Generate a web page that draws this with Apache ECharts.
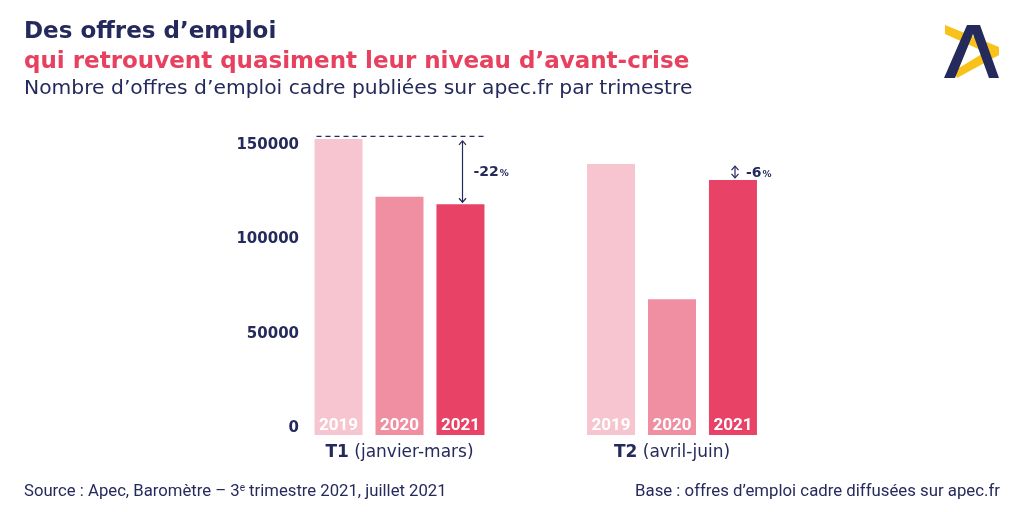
<!DOCTYPE html>
<html><head><meta charset="utf-8">
<script src="https://cdn.jsdelivr.net/npm/echarts@6/dist/echarts.min.js"></script>
<style>html,body{margin:0;padding:0;background:#fff}#c{width:1024px;height:512px}</style>
</head><body><div id="c"></div>
<script>
// ---- data ----
const quarters = ['T1', 'T2'];
const quarterNames = ['(janvier-mars)', '(avril-juin)'];
const years = ['2019', '2020', '2021'];
const offers2019 = [156900, 143600];
const offers2020 = [126300, 71900];
const offers2021 = [122300, 135200];
const changeLabels = ['-22', '-6'];
const showRefLine = [1, 0];
const yTickLabels = [0, 50000, 100000, 150000];

// ---- style ----
const NAVY = '#252a5c';
const PINK = '#e8415f';
const COLORS = ['#f7c5d0', '#f08fa2', '#e84266'];
const FONT = 'DejaVu Sans';

const chart = echarts.init(document.getElementById('c'), null, {renderer: 'canvas'});
const seriesData = [offers2019, offers2020, offers2021];

const barSeries = years.map((y, k) => ({
  type: 'bar',
  name: y,
  data: seriesData[k],
  barWidth: 48,
  barGap: '27%',
  itemStyle: {color: COLORS[k]},
  label: {
    show: true, position: 'insideBottom', distance: 1,
    formatter: () => y,
    color: '#fff', fontSize: 17, fontWeight: 'bold', fontFamily: 'Roboto'
  },
  emphasis: {disabled: true},
  silent: true
}));

const annData = quarters.map((q, i) => [i, offers2019[i], offers2021[i], showRefLine[i]]);

const annSeries = {
  type: 'custom',
  coordinateSystem: 'cartesian2d',
  data: annData,
  encode: {x: 0, y: 1},
  z: 10,
  silent: true,
  renderItem(params, api) {
    const i = api.value(0);
    const p19 = api.coord([i, api.value(1)]);
    const p21 = api.coord([i, api.value(2)]);
    const cx = p19[0];
    const ax = cx + 63;
    const y1 = p19[1] + 2, y2 = p21[1] - 2;
    const st = {stroke: NAVY, lineWidth: 1.2, fill: null};
    const children = [];
    if (api.value(3)) {
      children.push({type: 'line', shape: {x1: cx - 83, y1: p19[1] - 2.5, x2: cx + 84, y2: p19[1] - 2.5},
        style: {stroke: NAVY, lineWidth: 1.3, lineDash: [5, 4]}});
    }
    children.push({type: 'line', shape: {x1: ax, y1: y1, x2: ax, y2: y2}, style: st});
    children.push({type: 'polyline', shape: {points: [[ax - 3.5, y1 + 4], [ax, y1], [ax + 3.5, y1 + 4]]}, style: st});
    children.push({type: 'polyline', shape: {points: [[ax - 3.5, y2 - 4], [ax, y2], [ax + 3.5, y2 - 4]]}, style: st});
    children.push({type: 'text', x: ax + 11, y: (y1 + y2) / 2 + 1,
      style: {text: '{a|' + changeLabels[params.dataIndex] + '}{b|%}', align: 'left', verticalAlign: 'middle',
        rich: {a: {fontSize: 14, fontWeight: 'bold', fill: NAVY, fontFamily: FONT},
               b: {fontSize: 9, fontWeight: 'bold', fill: NAVY, fontFamily: FONT, padding: [3, 0, 0, 1]}}}});
    return {type: 'group', children};
  }
};

chart.setOption({
  animation: false,
  backgroundColor: '#fff',
  grid: {left: 263.25, right: 215.75, top: 133.1, bottom: 77},
  xAxis: {
    type: 'category', data: quarters,
    axisLine: {show: false}, axisTick: {show: false},
    axisLabel: {
      interval: 0, hideOverlap: false,
      margin: 9, color: NAVY, fontSize: 17, fontFamily: FONT,
      formatter: (v, i) => '{b|' + v + '} {n|' + quarterNames[i] + '}',
      rich: {b: {fontWeight: 'bold', fontSize: 17, color: NAVY, fontFamily: FONT},
             n: {fontSize: 17, color: NAVY, fontFamily: FONT}}
    }
  },
  yAxis: {
    type: 'value', min: 0, max: 160000, interval: 50000,
    axisLine: {show: false}, axisTick: {show: false}, splitLine: {show: false},
    axisLabel: {
      showMaxLabel: false, margin: -35.75, align: 'right', verticalAlign: 'bottom', lineHeight: 14,
      color: NAVY, fontSize: 15, fontWeight: 'bold', fontFamily: FONT,
      formatter: v => yTickLabels.includes(v) ? String(v) : ''
    }
  },
  series: [...barSeries, annSeries],
  graphic: [
    {type: 'text', left: 24, top: 21, style: {text: 'Des offres d’emploi', fill: NAVY, fontSize: 23, fontWeight: 'bold', fontFamily: FONT}},
    {type: 'text', left: 24, top: 51, style: {text: 'qui retrouvent quasiment leur niveau d’avant-crise', fill: PINK, fontSize: 23, fontWeight: 'bold', fontFamily: FONT}},
    {type: 'text', left: 24, top: 79, style: {text: 'Nombre d’offres d’emploi cadre publiées sur apec.fr par trimestre', fill: NAVY, fontSize: 20.3, fontFamily: FONT}},
    {type: 'text', left: 24, top: 483, style: {text: '{t|Source : Apec, Baromètre – 3}{s|e}{t| trimestre 2021, juillet 2021}',
      rich: {t: {fontSize: 16.7, fill: NAVY, fontFamily: 'Roboto'}, s: {fontSize: 10, fill: NAVY, fontFamily: 'Roboto', verticalAlign: 'top', padding: [0, 0, 7, 0]}}}},
    {type: 'text', right: 24, top: 483, style: {text: 'Base : offres d’emploi cadre diffusées sur apec.fr', fill: NAVY, fontSize: 16.8, fontFamily: 'Roboto'}},
    {type: 'group', left: 944, top: 25, children: [
      {type: 'polygon', shape: {points: [[1, 0], [55, 22], [55, 30], [13, 53], [10, 46], [41, 27], [1, 9]]}, style: {fill: '#f9c21b'}},
      {type: 'polygon', shape: {points: [[0, 53], [11, 53], [29, 9], [45, 53], [55, 53], [36, 0], [23, 0]]}, style: {fill: '#252a5c'}}
    ]}
  ]
});
</script></body></html>
